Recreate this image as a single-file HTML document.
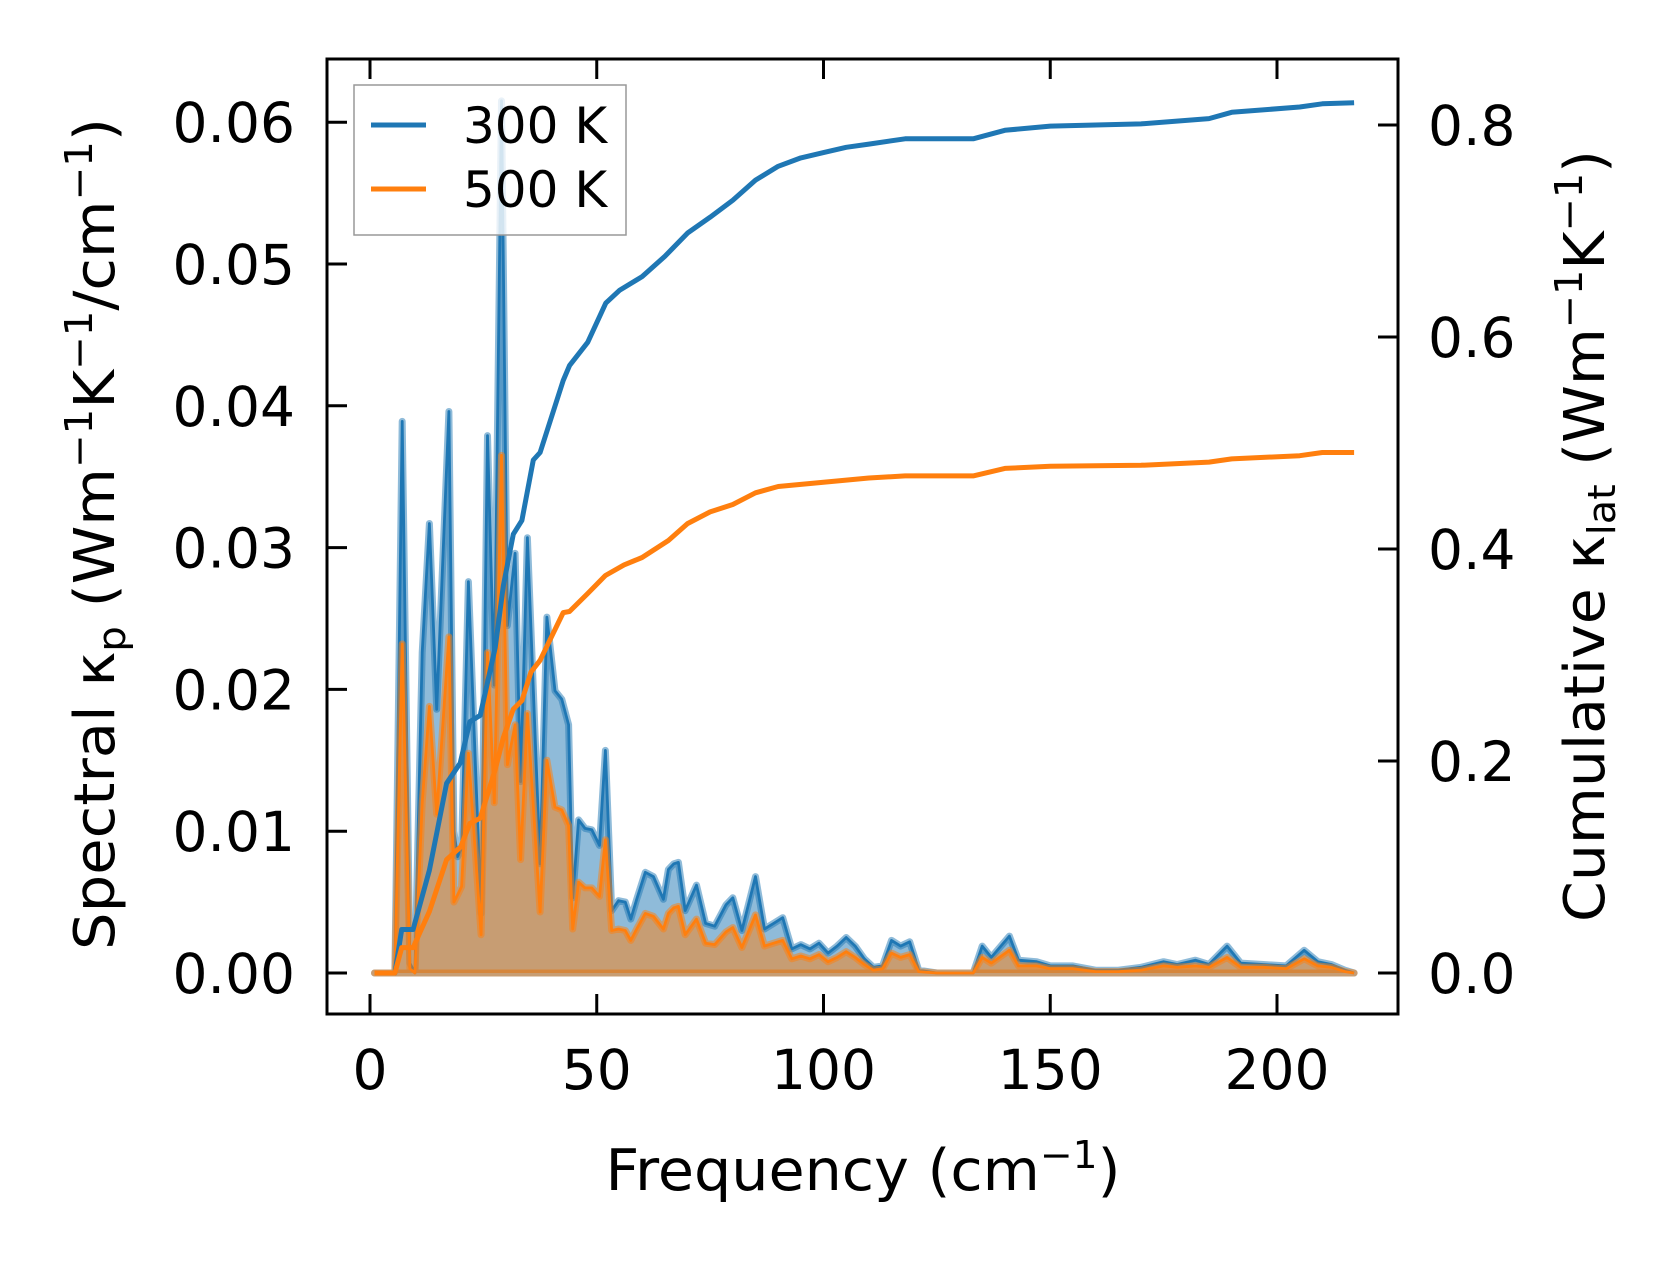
<!DOCTYPE html>
<html><head><meta charset="utf-8">
<style>
html,body{margin:0;padding:0;background:#fff;}
svg{display:block;}
text{font-family:"DejaVu Sans","Liberation Sans",sans-serif;fill:#000;}
</style></head>
<body>
<svg id="chart" width="1679" height="1264" viewBox="0 0 1679 1264" xmlns="http://www.w3.org/2000/svg">
<g id="plot"></g>
<g id="axes"></g>
</svg>
<script>
const freq = [1,5.5,7.1,8.8,9.9,11.5,13.1,14.7,17.4,18.5,19.3,20.2,21.7,24.5,25.9,27.4,29.0,30.3,32.0,33.2,34.7,37.5,39.0,40.8,42.3,43.8,44.7,46.0,47.4,48.9,50.6,51.9,53.3,54.8,56.3,57.5,58.8,60.7,62.5,64.7,65.8,67,68,69.5,72,74,76,78.5,80,82,85,87,89,91,93,95,97,99,101,103,105,107,109,111,113,115,117,119,121,125,133,135,137,141,143,147,150,155,160,165,170,175,178,182,185,189,192,197,202,206,209,212,215,217];
const spec300 = [0,0,0.0389,0.0007,0,0.0226,0.0317,0.0186,0.0396,0.010,0.0082,0.0088,0.0276,0.0042,0.0379,0.0203,0.0615,0.0245,0.0296,0.0135,0.0307,0.0077,0.0251,0.0199,0.0193,0.0175,0.0053,0.0108,0.0102,0.0101,0.009,0.0157,0.0044,0.0051,0.005,0.0038,0.0052,0.0071,0.0068,0.0052,0.0073,0.0077,0.0078,0.0044,0.0062,0.0035,0.0033,0.0048,0.0053,0.003,0.0068,0.0031,0.0035,0.0039,0.0017,0.002,0.0017,0.0021,0.0014,0.0019,0.0025,0.0019,0.001,0.0004,0.0005,0.0023,0.0019,0.0022,0.0002,0,0,0.0019,0.0011,0.0026,0.0009,0.0008,0.0005,0.0005,0.0002,0.0002,0.0004,0.0008,0.0006,0.0009,0.0006,0.0019,0.0007,0.0006,0.0005,0.0016,0.0008,0.0006,0.0002,0];
const spec500 = [0,0,0.0232,0.0003,0,0.012,0.0188,0.0112,0.0237,0.005,0.0055,0.0061,0.0155,0.0027,0.0226,0.012,0.0365,0.0147,0.0175,0.008,0.0183,0.0043,0.015,0.0117,0.0115,0.0104,0.0031,0.0064,0.006,0.006,0.0054,0.0094,0.003,0.0031,0.003,0.0023,0.0031,0.0042,0.004,0.0031,0.0042,0.0046,0.0047,0.0027,0.0038,0.0021,0.002,0.0029,0.0032,0.0018,0.0041,0.0019,0.0021,0.0023,0.001,0.0012,0.001,0.0013,0.0008,0.0011,0.0015,0.0011,0.0006,0.0002,0.0003,0.0014,0.0011,0.0013,0.0001,0,0,0.0011,0.0007,0.0016,0.0005,0.0005,0.0003,0.0003,0.0001,0.0001,0.0002,0.0005,0.0004,0.0005,0.0004,0.0011,0.0004,0.0004,0.0003,0.001,0.0005,0.0004,0.0001,0];
const cumFreq300 = [1,5.5,7,9.5,13.1,16.9,19.9,22,24.3,27.6,29.4,31.6,33.5,36,37.5,42.6,44,48,52,55,60,65,70,75,80,85,90,95,100,105,110,118,133,140,150,170,185,190,205,210,217];
const cum300 = [0,0,0.041,0.041,0.097,0.179,0.198,0.237,0.243,0.307,0.365,0.414,0.427,0.484,0.491,0.559,0.573,0.595,0.632,0.644,0.657,0.676,0.698,0.713,0.729,0.748,0.761,0.769,0.774,0.779,0.782,0.787,0.787,0.795,0.799,0.801,0.806,0.812,0.817,0.820,0.821];
const cumFreq500 = [1,5.5,7,9.5,13.1,16.9,20,22,24.3,27.6,29.4,31.6,33.5,35.5,37.5,42.6,44,48,51.9,56,60,65.8,70,75,80,85,90,100,110,118,133,140,150,170,185,190,205,210,217];
const cum500 = [0,0,0.024,0.024,0.058,0.107,0.119,0.141,0.146,0.192,0.222,0.249,0.257,0.284,0.295,0.340,0.341,0.358,0.375,0.385,0.392,0.408,0.424,0.435,0.442,0.453,0.459,0.463,0.467,0.469,0.469,0.476,0.478,0.479,0.482,0.485,0.488,0.491,0.491];
const xTicks = [0,50,100,150,200];
const yLeftTicks = [0,0.01,0.02,0.03,0.04,0.05,0.06];
const yLeftLabels = ["0.00","0.01","0.02","0.03","0.04","0.05","0.06"];
const yRightTicks = [0,0.2,0.4,0.6,0.8];
const yRightLabels = ["0.0","0.2","0.4","0.6","0.8"];

const L=327,R=1398,T=59,B=1014;
const xS = f => 370 + f*4.535;
const yL = v => 973 - v*14180;
const yR = v => 973 - v*1060;
const NS="http://www.w3.org/2000/svg";
const plot=document.getElementById('plot'), axes=document.getElementById('axes');
function mk(tag, attrs, parent){const e=document.createElementNS(NS,tag);for(const k in attrs)e.setAttribute(k,attrs[k]);parent.appendChild(e);return e;}

function specPath(vals){
  let d='M'+xS(freq[0])+','+yL(0);
  for(let i=0;i<freq.length;i++) d+=' L'+xS(freq[i]).toFixed(1)+','+yL(vals[i]).toFixed(1);
  d+=' L'+xS(freq[freq.length-1])+','+yL(0)+' Z';
  return d;
}
function linePath(xs,vals,sc){
  let d='';
  for(let i=0;i<xs.length;i++) d+=(i?' L':'M')+xS(xs[i]).toFixed(1)+','+sc(vals[i]).toFixed(1);
  return d;
}
let e=mk('path',{d:specPath(spec300),fill:'rgba(31,119,180,0.5)',stroke:'rgba(31,119,180,0.5)','stroke-width':7,'stroke-linejoin':'round'},plot);


e=mk('path',{d:linePath(freq,spec300,yL),fill:'none',stroke:'#1f77b4','stroke-width':2.8,'stroke-linejoin':'round'},plot);


e=mk('path',{d:specPath(spec500),fill:'rgba(255,127,14,0.5)',stroke:'rgba(255,127,14,0.5)','stroke-width':7,'stroke-linejoin':'round'},plot);


e=mk('path',{d:linePath(freq,spec500,yL),fill:'none',stroke:'#ff7f0e','stroke-width':2.8,'stroke-linejoin':'round'},plot);


e=mk('path',{d:linePath(cumFreq300,cum300,yR),fill:'none',stroke:'#1f77b4','stroke-width':5,'stroke-linejoin':'round'},plot);


e=mk('path',{d:linePath(cumFreq500,cum500,yR),fill:'none',stroke:'#ff7f0e','stroke-width':5,'stroke-linejoin':'round'},plot);



e=mk('rect',{x:L,y:T,width:R-L,height:B-T,fill:'none',stroke:'#000','stroke-width':3},axes);


const TL=20;
xTicks.forEach((t,i)=>{
  const x=xS(t);
  let a=mk('line',{x1:x,x2:x,y1:B,y2:B-TL,stroke:'#000','stroke-width':3},axes);
  
  
  a=mk('line',{x1:x,x2:x,y1:T,y2:T+TL,stroke:'#000','stroke-width':3},axes);
  
  
  a=mk('text',{x:x,y:1089,'text-anchor':'middle','font-size':55},axes);
  a.textContent=String(t);
  
  
});
yLeftTicks.forEach((t,i)=>{
  const y=yL(t);
  let a=mk('line',{x1:L,x2:L+TL,y1:y,y2:y,stroke:'#000','stroke-width':3},axes);
  
  
  a=mk('text',{x:295,y:y+20,'text-anchor':'end','font-size':55},axes);
  a.textContent=yLeftLabels[i];
  
  
});
yRightTicks.forEach((t,i)=>{
  const y=yR(t);
  let a=mk('line',{x1:R,x2:R-TL,y1:y,y2:y,stroke:'#000','stroke-width':3},axes);
  
  
  a=mk('text',{x:1428,y:y+20,'text-anchor':'start','font-size':55},axes);
  a.textContent=yRightLabels[i];
  
  
});
</script>
<script>
(function(){
const axes=document.getElementById('axes');
axes.insertAdjacentHTML('beforeend',
 '<text x="863" y="1190" text-anchor="middle" font-size="57" textLength="515" lengthAdjust="spacingAndGlyphs">Frequency (cm<tspan font-size="38" dy="-22">−1</tspan><tspan dy="22">)</tspan></text>'+
 '<text transform="translate(114,534) rotate(-90)" text-anchor="middle" font-size="56" textLength="832" lengthAdjust="spacingAndGlyphs">Spectral κ<tspan font-size="38" dy="11">p</tspan><tspan dy="-11"> (Wm</tspan><tspan font-size="38" dy="-22">−1</tspan><tspan dy="22">K</tspan><tspan font-size="38" dy="-22">−1</tspan><tspan dy="22">/cm</tspan><tspan font-size="38" dy="-22">−1</tspan><tspan dy="22">)</tspan></text>'+
 '<text transform="translate(1604,536) rotate(-90)" text-anchor="middle" font-size="56" textLength="772" lengthAdjust="spacingAndGlyphs">Cumulative κ<tspan font-size="38" dy="11">lat</tspan><tspan dy="-11"> (Wm</tspan><tspan font-size="38" dy="-22">−1</tspan><tspan dy="22">K</tspan><tspan font-size="38" dy="-22">−1</tspan><tspan dy="22">)</tspan></text>'+
 '<g>'+
 '<rect x="354" y="85" width="272" height="150" fill="rgba(255,255,255,0.8)" stroke="#999" stroke-width="1.5"/>'+
 '<line x1="371" x2="426" y1="125" y2="125" stroke="#1f77b4" stroke-width="5"/>'+
 '<text x="463" y="143" font-size="50">300 K</text>'+
 '<line x1="371" x2="426" y1="189" y2="189" stroke="#ff7f0e" stroke-width="5"/>'+
 '<text x="463" y="207" font-size="50">500 K</text>'+
 '</g>');
})();
</script>
</body></html>
